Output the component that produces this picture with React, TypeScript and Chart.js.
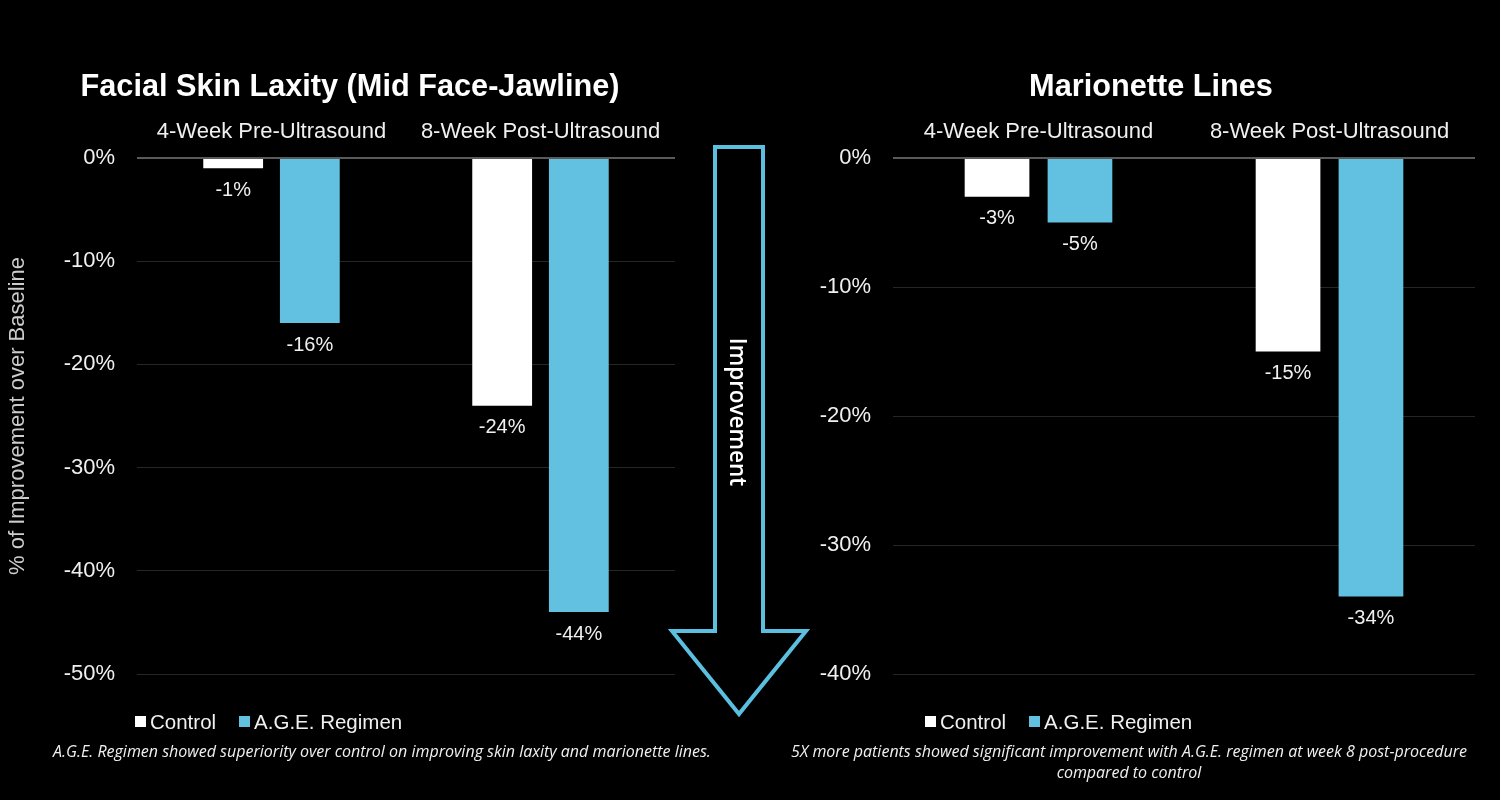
import React, { useEffect, useRef } from "react";
import { Chart, registerables } from "chart.js";

Chart.register(...registerables);

const categories = ["4-Week Pre-Ultrasound", "8-Week Post-Ultrasound"];
const seriesNames = ["Control", "A.G.E. Regimen"];
const laxityControl = [-1, -24];
const laxityAge = [-16, -44];
const marionetteControl = [-3, -15];
const marionetteAge = [-5, -34];
const laxityTitle = "Facial Skin Laxity (Mid Face-Jawline)";
const marionetteTitle = "Marionette Lines";
const yAxisTitle = "% of Improvement over Baseline";
const leftCaption = "A.G.E. Regimen showed superiority over control on improving skin laxity and marionette lines.";
const rightCaption = ["5X more patients showed significant improvement with A.G.E. regimen at week 8 post-procedure", "compared to control"];
const arrowText = "Improvement";

const WHITE = "#ffffff";
const BLUE = "#62C1E1";
const FONT = "'Liberation Sans', Arial, sans-serif";

const labelPlugin = {
  id: "barLabels",
  afterDatasetsDraw(chart: any) {
    const ctx = chart.ctx;
    ctx.save();
    ctx.font = `20px ${FONT}`;
    ctx.fillStyle = "#f0f0f0";
    ctx.textAlign = "center";
    ctx.textBaseline = "middle";
    chart.data.datasets.forEach((ds: any, di: number) => {
      const meta = chart.getDatasetMeta(di);
      meta.data.forEach((bar: any, i: number) => {
        ctx.fillText(`${ds.data[i]}%`, bar.x, bar.y + 22);
      });
    });
    ctx.restore();
  },
};

function makeChart(
  canvas: HTMLCanvasElement,
  control: number[],
  age: number[],
  min: number,
  yWidth: number,
  padRight: number,
  showYTitle: boolean
) {
  return new Chart(canvas, {
    type: "bar",
    data: {
      labels: categories,
      datasets: [
        { label: seriesNames[0], data: control, backgroundColor: WHITE, categoryPercentage: 0.57, barPercentage: 0.78 },
        { label: seriesNames[1], data: age, backgroundColor: BLUE, categoryPercentage: 0.57, barPercentage: 0.78 },
      ],
    },
    options: {
      responsive: false,
      animation: false,
      layout: { padding: { top: 110, left: 0, right: padRight, bottom: 126 } },
      plugins: { legend: { display: false }, title: { display: false }, tooltip: { enabled: false } },
      scales: {
        x: {
          position: "top",
          grid: { display: false, drawTicks: false },
          border: { display: false },
          ticks: { color: "#f0f0f0", font: { family: FONT, size: 22 }, padding: 13, maxRotation: 0 },
          afterFit: (s: any) => { s.height = 48; },
        },
        y: {
          min,
          max: 0,
          grid: {
            drawTicks: false,
            color: (c: any) => (c.tick && c.tick.value === 0 ? "#5a5a5a" : "#262626"),
            lineWidth: (c: any) => (c.tick && c.tick.value === 0 ? 2 : 1),
          },
          border: { display: false },
          ticks: { stepSize: 10, color: "#f0f0f0", font: { family: FONT, size: 22 }, padding: 22, callback: (v: any) => `${v}%` },
          title: { display: showYTitle, text: yAxisTitle, color: "#cccccc", font: { family: FONT, size: 22 }, padding: { top: 5, bottom: 0 } },
          afterFit: (s: any) => { s.width = yWidth; },
        },
      },
    },
    plugins: [labelPlugin],
  });
}

function Legend({ left }: { left: number }) {
  const item = (color: string, text: string, ml: number) => (
    <span style={{ display: "inline-flex", alignItems: "center", marginLeft: ml }}>
      <span style={{ width: 11, height: 11, background: color, display: "inline-block", marginRight: 4 }} />
      <span>{text}</span>
    </span>
  );
  return (
    <div style={{ position: "absolute", left, top: 707, color: "#f0f0f0", fontFamily: FONT, fontSize: 20.5, whiteSpace: "nowrap", lineHeight: "26px" }}>
      {item(WHITE, seriesNames[0], 0)}
      {item(BLUE, seriesNames[1], 23)}
    </div>
  );
}

export default function App() {
  const leftRef = useRef<HTMLCanvasElement>(null);
  const rightRef = useRef<HTMLCanvasElement>(null);

  useEffect(() => {
    document.body.style.margin = "0";
    document.body.style.background = "#000";
    const c1 = makeChart(leftRef.current!, laxityControl, laxityAge, -50, 137, 85, true);
    const c2 = makeChart(rightRef.current!, marionetteControl, marionetteAge, -40, 133, 25, false);
    return () => { c1.destroy(); c2.destroy(); };
  }, []);

  const titleStyle: React.CSSProperties = {
    position: "absolute", top: 68, fontFamily: FONT, fontWeight: "bold", fontSize: 30.7, color: "#fff",
    transform: "translateX(-50%)", whiteSpace: "nowrap", lineHeight: "36px",
  };
  const capStyle: React.CSSProperties = {
    position: "absolute", fontFamily: "'Open Sans', sans-serif", fontStyle: "italic", fontSize: 16, color: "#f0f0f0",
    transform: "translateX(-50%)", whiteSpace: "nowrap", lineHeight: "21px", textAlign: "center",
  };

  return (
    <div style={{ position: "relative", width: 1500, height: 800, background: "#000", overflow: "hidden" }}>
      <canvas ref={leftRef} width={760} height={800} style={{ position: "absolute", left: 0, top: 0, width: 760, height: 800 }} />
      <canvas ref={rightRef} width={740} height={800} style={{ position: "absolute", left: 760, top: 0, width: 740, height: 800 }} />
      <div style={{ ...titleStyle, left: 350 }}>{laxityTitle}</div>
      <div style={{ ...titleStyle, left: 1151 }}>{marionetteTitle}</div>
      <Legend left={135} />
      <Legend left={925} />
      <div style={{ ...capStyle, left: 382, top: 741 }}>{leftCaption}</div>
      <div style={{ ...capStyle, left: 1129, top: 741 }}>{rightCaption[0]}<br />{rightCaption[1]}</div>
      <svg width={1500} height={800} style={{ position: "absolute", left: 0, top: 0, pointerEvents: "none" }}>
        <polygon
          points="715,147 763,147 763,631 806,631 739,714 672,631 715,631"
          fill="#000"
          stroke="#5BBFE0"
          strokeWidth={4}
          strokeLinejoin="miter"
        />
        <text
          x={0}
          y={0}
          transform="translate(738,412) rotate(90)"
          textAnchor="middle"
          dominantBaseline="central"
          fill="#fff"
          fontFamily="'Open Sans', sans-serif"
          fontWeight={600}
          fontSize={22.5}
        >
          {arrowText}
        </text>
      </svg>
    </div>
  );
}
